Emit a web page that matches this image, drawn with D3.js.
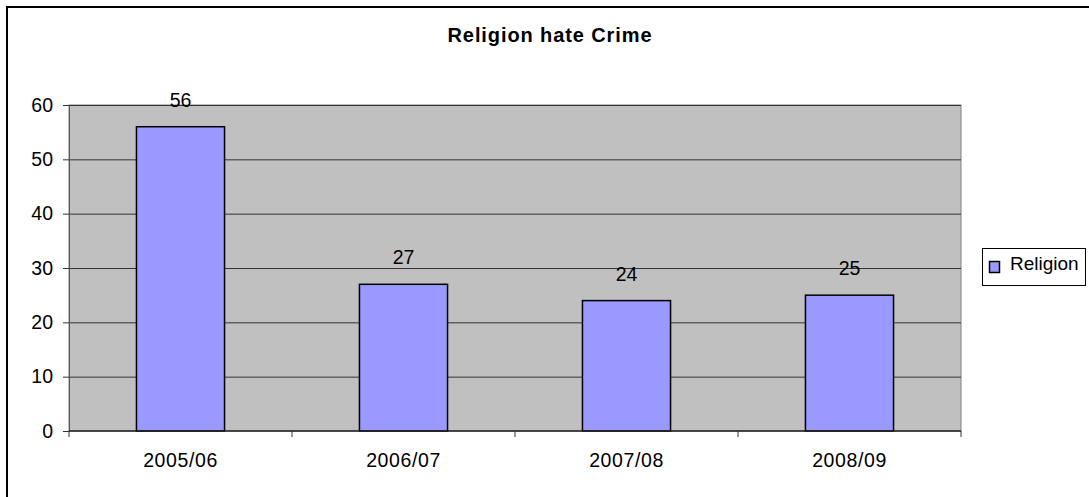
<!DOCTYPE html>
<html><head><meta charset="utf-8">
<script src="https://cdn.jsdelivr.net/npm/d3@7"></script>
<style>body{margin:0;background:#fff}svg{display:block}text{font-family:"Liberation Sans",Arial,sans-serif}</style>
</head><body>
<script>
const categories = ["2005/06","2006/07","2007/08","2008/09"];
const religionValues = [56,27,24,25];
const yTicks = [0,10,20,30,40,50,60];
const seriesName = "Religion";
const chartTitle = "Religion hate Crime";

const W=1089,H=497;
const svg=d3.select("body").append("svg").attr("width",W).attr("height",H);
// outer chart border (cropped on right/bottom)
svg.append("rect").attr("x",7).attr("y",7).attr("width",1200).attr("height",600)
  .attr("fill","#fff").attr("stroke","#000").attr("stroke-width",2);

const plot={l:69,t:105,r:961,b:431};
const x=d3.scaleBand().domain(categories).range([plot.l,plot.r]).paddingInner(0.605).paddingOuter(0.3025);
const y=d3.scaleLinear().domain([0,60]).range([plot.b,plot.t]);

svg.append("rect").attr("x",plot.l).attr("y",plot.t).attr("width",plot.r-plot.l).attr("height",plot.b-plot.t)
  .attr("fill","#c0c0c0").attr("stroke","#808080").attr("stroke-width",1);

// gridlines
svg.append("g").selectAll("line").data(yTicks.filter(d=>d>0)).join("line")
  .attr("x1",plot.l).attr("x2",plot.r).attr("y1",d=>y(d)+0.5).attr("y2",d=>y(d)+0.5)
  .attr("stroke","#333").attr("stroke-width",1);

// y axis
const yAxis=d3.axisLeft(y).tickValues(yTicks).tickSize(6).tickPadding(10).tickFormat(d3.format("d"));
const gy=svg.append("g").attr("transform",`translate(${plot.l},0)`).call(yAxis);
gy.select(".domain").attr("stroke","#555");
gy.selectAll(".tick line").attr("stroke","#333");
gy.selectAll("text").attr("font-size",19.5).attr("fill","#000").attr("font-family","Liberation Sans, Arial, sans-serif");

// bars
svg.append("g").selectAll("rect").data(religionValues).join("rect")
  .attr("x",(d,i)=>x(categories[i])).attr("width",x.bandwidth())
  .attr("y",d=>y(d)).attr("height",d=>y(0)-y(d))
  .attr("fill","#9999ff").attr("stroke","#000").attr("stroke-width",1.5);

// value labels
svg.append("g").selectAll("text").data(religionValues).join("text")
  .attr("x",(d,i)=>x(categories[i])+x.bandwidth()/2).attr("y",d=>y(d)-20)
  .attr("text-anchor","middle").attr("font-size",19.5).attr("fill","#000").text(d=>d);

// x axis
const xAxisScale=d3.scalePoint().domain(d3.range(categories.length+1)).range([plot.l,plot.r]);
svg.append("line").attr("x1",plot.l).attr("x2",plot.r).attr("y1",plot.b).attr("y2",plot.b).attr("stroke","#222").attr("stroke-width",1.5);
svg.append("g").selectAll("line").data(d3.range(categories.length+1)).join("line")
  .attr("x1",d=>xAxisScale(d)).attr("x2",d=>xAxisScale(d)).attr("y1",plot.b).attr("y2",plot.b+6).attr("stroke","#333");
svg.append("g").selectAll("text").data(categories).join("text")
  .attr("x",d=>x(d)+x.bandwidth()/2).attr("y",467).attr("text-anchor","middle")
  .attr("font-size",19.5).attr("letter-spacing",0.6).attr("fill","#000").text(d=>d);

// title
svg.append("text").attr("x",550).attr("y",42).attr("text-anchor","middle")
  .attr("font-size",20).attr("font-weight","bold").attr("letter-spacing",0.9).text(chartTitle);

// legend
const lg=svg.append("g");
lg.append("rect").attr("x",982.5).attr("y",248.5).attr("width",103).attr("height",37).attr("fill","#fff").attr("stroke","#000");
lg.append("rect").attr("x",989.5).attr("y",261.5).attr("width",10).attr("height",11).attr("fill","#9999ff").attr("stroke","#000").attr("stroke-width",1.5);
lg.append("text").attr("x",1010).attr("y",270).attr("font-size",19).text(seriesName);
</script>
</body></html>
